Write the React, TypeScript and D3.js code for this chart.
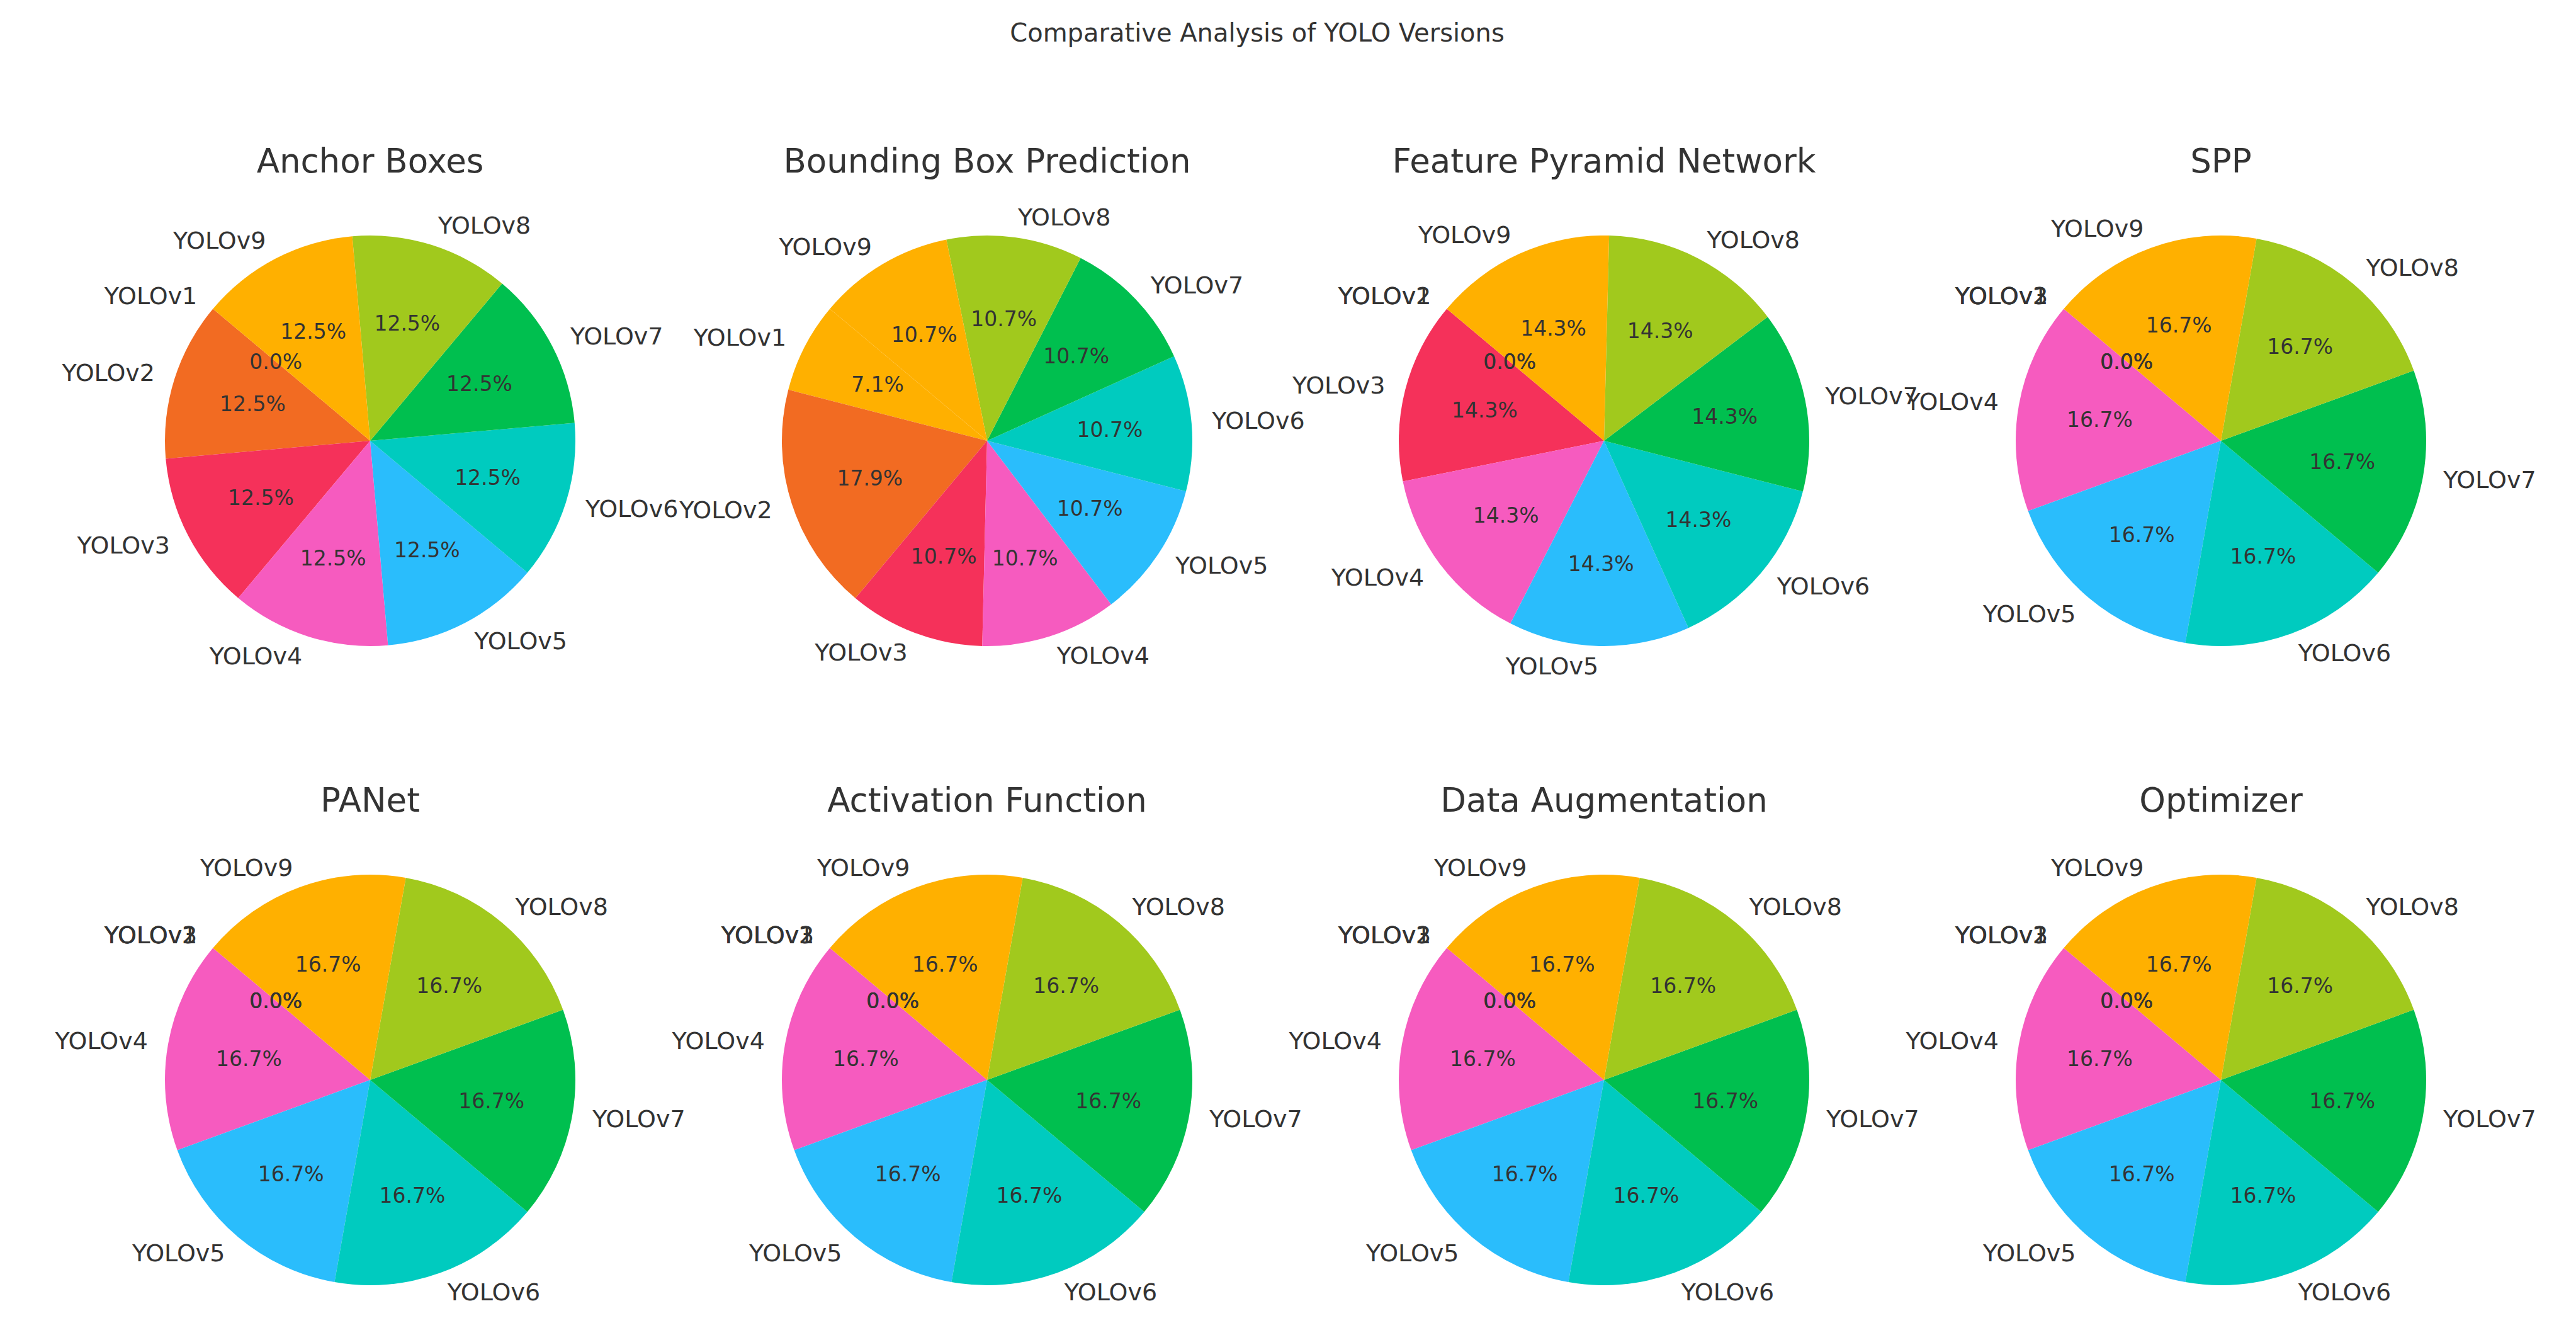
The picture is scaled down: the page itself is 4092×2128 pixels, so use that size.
import React, { useEffect, useRef } from 'react';
import * as d3 from 'd3';

const versions = ['YOLOv1', 'YOLOv2', 'YOLOv3', 'YOLOv4', 'YOLOv5', 'YOLOv6', 'YOLOv7', 'YOLOv8', 'YOLOv9'];
// 8 colours, cycling (so YOLOv9 reuses YOLOv1's colour)
const colors = ['#FFB000', '#F26B22', '#F5315A', '#F65BBF', '#2ABDFC', '#00CBBF', '#00BF4F', '#A1C91D'];

// percentages, in the order of versions
const anchorBoxes = [0, 12.5, 12.5, 12.5, 12.5, 12.5, 12.5, 12.5, 12.5];
const boundingBox = [7.1, 17.9, 10.7, 10.7, 10.7, 10.7, 10.7, 10.7, 10.7];
const featurePyramid = [0, 0, 14.3, 14.3, 14.3, 14.3, 14.3, 14.3, 14.3];
const spp = [0, 0, 0, 16.7, 16.7, 16.7, 16.7, 16.7, 16.7];
const panet = [0, 0, 0, 16.7, 16.7, 16.7, 16.7, 16.7, 16.7];
const activation = [0, 0, 0, 16.7, 16.7, 16.7, 16.7, 16.7, 16.7];
const augmentation = [0, 0, 0, 16.7, 16.7, 16.7, 16.7, 16.7, 16.7];
const optimizer = [0, 0, 0, 16.7, 16.7, 16.7, 16.7, 16.7, 16.7];

const titles = [
  'Anchor Boxes', 'Bounding Box Prediction', 'Feature Pyramid Network', 'SPP',
  'PANet', 'Activation Function', 'Data Augmentation', 'Optimizer',
];
const series = [anchorBoxes, boundingBox, featurePyramid, spp, panet, activation, augmentation, optimizer];

const App = () => {
  const svgRef = useRef<SVGSVGElement>(null);

  useEffect(() => {
    const width = 4092;
    const height = 2128;
    const font = 'DejaVu Sans, sans-serif';
    const textColor = '#333';

    const svg = d3.select(svgRef.current)
      .attr('width', width)
      .attr('height', height);
    svg.selectAll('*').remove();

    svg.append('rect').attr('width', width).attr('height', height).attr('fill', '#fff');

    // Main title
    svg.append('text')
      .attr('x', 1997)
      .attr('y', 52)
      .attr('text-anchor', 'middle')
      .attr('dominant-baseline', 'central')
      .style('font-family', font)
      .style('font-size', '40px')
      .attr('fill', textColor)
      .text('Comparative Analysis of YOLO Versions');

    const radius = 326;
    const colX = d3.scaleLinear().domain([0, 3]).range([588, 3528]);
    const rowY = d3.scaleLinear().domain([0, 1]).range([700, 1715]);

    // matplotlib startangle=140, counterclockwise -> d3 angles (clockwise from 12 o'clock)
    const start = (90 - 140) * Math.PI / 180;
    const pie = d3.pie<number>()
      .value(d => d)
      .sort(null)
      .startAngle(start)
      .endAngle(start - 2 * Math.PI);

    const arc = d3.arc<d3.PieArcDatum<number>>()
      .innerRadius(0)
      .outerRadius(radius);

    series.forEach((values, i) => {
      const cx = colX(i % 4);
      const cy = rowY(Math.floor(i / 4));
      const total = d3.sum(values);
      const g = svg.append('g').attr('transform', `translate(${cx},${cy})`);

      g.append('text')
        .attr('x', 0)
        .attr('y', -445)
        .attr('text-anchor', 'middle')
        .attr('dominant-baseline', 'central')
        .style('font-family', font)
        .style('font-size', '53px')
        .attr('fill', textColor)
        .text(titles[i]);

      const arcs = pie(values);

      g.selectAll('path.slice')
        .data(arcs)
        .enter()
        .append('path')
        .attr('class', 'slice')
        .attr('d', arc)
        .attr('fill', (d, j) => colors[j % colors.length]);

      const mid = (d: d3.PieArcDatum<number>) => (d.startAngle + d.endAngle) / 2;

      // category labels at 1.1 R
      arcs.forEach((d, j) => {
        const a = mid(d);
        const x = Math.sin(a) * radius * 1.1;
        const y = -Math.cos(a) * radius * 1.1;
        g.append('text')
          .attr('x', x)
          .attr('y', y)
          .attr('text-anchor', x > 0 ? 'start' : 'end')
          .attr('dominant-baseline', 'central')
          .style('font-family', font)
          .style('font-size', '38px')
          .attr('fill', textColor)
          .text(versions[j]);
      });

      // percentage labels at 0.6 R
      arcs.forEach(d => {
        const a = mid(d);
        g.append('text')
          .attr('x', Math.sin(a) * radius * 0.6)
          .attr('y', -Math.cos(a) * radius * 0.6)
          .attr('text-anchor', 'middle')
          .attr('dominant-baseline', 'central')
          .style('font-family', font)
          .style('font-size', '33px')
          .attr('fill', textColor)
          .text(`${(d.value / total * 100).toFixed(1)}%`);
      });
    });
  }, []);

  return (
    <svg ref={svgRef} style={{ position: 'absolute', left: 0, top: 0, display: 'block' }} />
  );
};

export default App;
